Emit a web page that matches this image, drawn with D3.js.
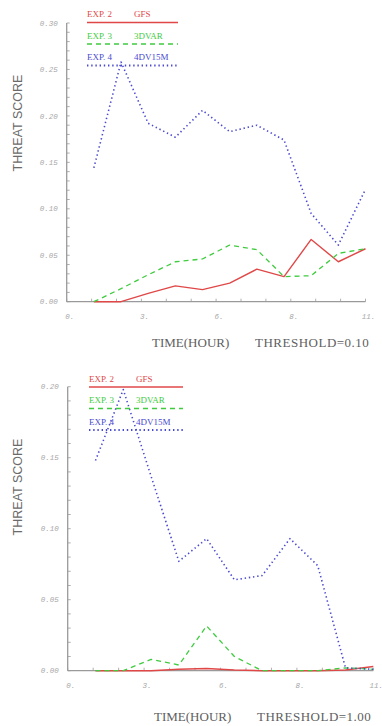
<!DOCTYPE html>
<html>
<head>
<meta charset="utf-8">
<script src="https://cdn.jsdelivr.net/npm/d3@7"></script>
<style>
  html, body { margin: 0; padding: 0; background: #fff; }
  svg { display: block; }
</style>
</head>
<body>
<svg id="chart" width="382" height="726"></svg>
<script>
// Forecast hours (x values of each point)
const HOURS = [1, 2, 3, 4, 5, 6, 7, 8, 9, 10, 11];

// Threshold 0.10
const TS010_GFS    = [0.000, 0.000, 0.009, 0.017, 0.013, 0.020, 0.035, 0.027, 0.067, 0.043, 0.057];
const TS010_3DVAR  = [0.000, 0.014, 0.029, 0.043, 0.046, 0.061, 0.056, 0.027, 0.028, 0.052, 0.057];
const TS010_4DV15M = [0.144, 0.258, 0.192, 0.177, 0.206, 0.183, 0.190, 0.174, 0.095, 0.061, 0.121];

// Threshold 1.00
const TS100_GFS    = [0.000, 0.000, 0.000, 0.001, 0.0015, 0.0005, 0.000, 0.000, 0.000, 0.0005, 0.003];
const TS100_3DVAR  = [0.000, 0.000, 0.008, 0.004, 0.0315, 0.010, 0.000, 0.000, 0.000, 0.002, 0.001];
const TS100_4DV15M = [0.148, 0.198, 0.137, 0.077, 0.093, 0.064, 0.067, 0.093, 0.074, 0.002, 0.001];

const SERIES_NAMES = ['EXP. 2', 'EXP. 3', 'EXP. 4'];
const SERIES_LABELS = ['GFS', '3DVAR', '4DV15M'];

// x axis: 4 labelled intervals over 0..11, labels printed rounded
const X_TICKS = [0, 2.75, 5.5, 8.25, 11];
const X_TICK_LABELS = ['0.', '3.', '6.', '8.', '11.'];

const Y_TICKS_TOP = [0.00, 0.05, 0.10, 0.15, 0.20, 0.25, 0.30];
const Y_TICKS_BOTTOM = [0.00, 0.05, 0.10, 0.15, 0.20];

const THRESHOLDS = ['0.10', '1.00'];

const svg = d3.select('#chart');

const STYLES = [
  { color: '#e04848', width: 1.4, dash: null },
  { color: '#3fcc3f', width: 1.3, dash: '5 4' },
  { color: '#4a4ad0', width: 1.6, dash: '1.4 2.8' }
];

function drawPanel(opt) {
  const g = svg.append('g');

  const x = d3.scaleLinear().domain([0, 11]).range([opt.x0, opt.x1]);
  const y = d3.scaleLinear().domain([0, opt.yMax]).range([opt.y0, opt.y1]);

  // Axes — gray, ticks pointing inward
  g.append('line')
    .attr('x1', opt.x0).attr('x2', opt.x0).attr('y1', opt.y0).attr('y2', opt.y1)
    .attr('stroke', '#9a9a9a').attr('stroke-width', 1.3);
  g.append('line')
    .attr('x1', opt.x0).attr('x2', opt.x1).attr('y1', opt.y0).attr('y2', opt.y0)
    .attr('stroke', '#9a9a9a').attr('stroke-width', 1.3);

  // y minor ticks every 0.01
  const yMinor = d3.range(0, Math.round(opt.yMax * 100) + 1).map(d => d / 100);
  g.selectAll('.ymin').data(yMinor).enter().append('line')
    .attr('x1', opt.x0).attr('x2', opt.x0 + 3)
    .attr('y1', d => y(d)).attr('y2', d => y(d))
    .attr('stroke', '#9a9a9a').attr('stroke-width', 0.8);

  // x minor ticks, 3 per labelled interval
  const xMinor = d3.range(0, 13).map(i => i * 11 / 12);
  g.selectAll('.xmin').data(xMinor).enter().append('line')
    .attr('x1', d => x(d)).attr('x2', d => x(d))
    .attr('y1', opt.y0).attr('y2', opt.y0 - 3)
    .attr('stroke', '#9a9a9a').attr('stroke-width', 0.8);

  // y tick labels
  g.selectAll('.ylab').data(opt.yTicks).enter().append('text')
    .attr('x', opt.x0 - 9).attr('y', d => y(d)).attr('dy', '0.35em')
    .attr('text-anchor', 'end')
    .attr('font-family', 'Liberation Mono, monospace').attr('font-size', 7.5)
    .attr('font-style', 'italic')
    .attr('fill', '#a8a8a8')
    .text(d => d.toFixed(2));

  // x tick labels
  g.selectAll('.xlab').data(X_TICKS).enter().append('text')
    .attr('x', d => x(d) + 3).attr('y', opt.y0 + 15).attr('dy', '0.35em')
    .attr('text-anchor', 'middle')
    .attr('font-family', 'Liberation Mono, monospace').attr('font-size', 7.5)
    .attr('font-style', 'italic')
    .attr('fill', '#a8a8a8')
    .text((d, i) => X_TICK_LABELS[i]);

  // series
  const line = d3.line().x((d, i) => x(HOURS[i])).y(d => y(d));
  opt.series.forEach((vals, k) => {
    const s = STYLES[k];
    g.append('path').datum(vals)
      .attr('d', line)
      .attr('fill', 'none').attr('stroke', s.color)
      .attr('stroke-width', s.width)
      .attr('stroke-dasharray', s.dash)
      .attr('stroke-linejoin', 'round');
  });

  // legend (top-left, overlapping plot)
  SERIES_NAMES.forEach((name, k) => {
    const s = STYLES[k];
    const ty = opt.legendY + k * 21.5;
    g.append('text')
      .attr('x', opt.legendX).attr('y', ty).attr('dy', '0.35em')
      .attr('font-family', 'Liberation Serif, serif').attr('font-size', 9)
      .attr('fill', s.color).text(name);
    g.append('text')
      .attr('x', opt.legendX + 47).attr('y', ty).attr('dy', '0.35em')
      .attr('font-family', 'Liberation Serif, serif').attr('font-size', 9)
      .attr('fill', s.color).text(SERIES_LABELS[k]);
    g.append('line')
      .attr('x1', opt.legendX).attr('x2', opt.legendX + opt.legendW)
      .attr('y1', ty + 8.5).attr('y2', ty + 8.5)
      .attr('stroke', s.color).attr('stroke-width', s.width + 0.3)
      .attr('stroke-dasharray', s.dash);
  });

  // y title
  g.append('text')
    .attr('transform', `translate(${opt.yTitleX},${opt.yTitleY}) rotate(-90)`)
    .attr('text-anchor', 'middle').attr('dy', '0.35em')
    .attr('font-family', 'Liberation Sans, sans-serif').attr('font-size', 12.5)
    .attr('fill', '#6a6a6a')
    .text('THREAT SCORE');

  // x title + threshold
  g.append('text')
    .attr('x', opt.xTitleX).attr('y', opt.xTitleY).attr('dy', '0.35em')
    .attr('font-family', 'Liberation Serif, serif').attr('font-size', 13)
    .attr('fill', '#606060')
    .text('TIME(HOUR)');
  g.append('text')
    .attr('x', opt.xTitleX + 103).attr('y', opt.xTitleY).attr('dy', '0.35em')
    .attr('font-family', 'Liberation Serif, serif').attr('font-size', 13)
    .attr('letter-spacing', 0.5)
    .attr('fill', '#606060')
    .text('THRESHOLD=' + opt.threshold);
}

drawPanel({
  x0: 66.7, x1: 365.5, y0: 301.7, y1: 23, yMax: 0.30, yTicks: Y_TICKS_TOP,
  series: [TS010_GFS, TS010_3DVAR, TS010_4DV15M],
  legendX: 87, legendY: 14, legendW: 91,
  yTitleX: 18, yTitleY: 123, xTitleX: 152, xTitleY: 342, threshold: THRESHOLDS[0]
});

drawPanel({
  x0: 67.7, x1: 373.3, y0: 670.7, y1: 386.7, yMax: 0.20, yTicks: Y_TICKS_BOTTOM,
  series: [TS100_GFS, TS100_3DVAR, TS100_4DV15M],
  legendX: 89, legendY: 378.5, legendW: 94,
  yTitleX: 18, yTitleY: 487, xTitleX: 154, xTitleY: 716, threshold: THRESHOLDS[1]
});
</script>
</body>
</html>
